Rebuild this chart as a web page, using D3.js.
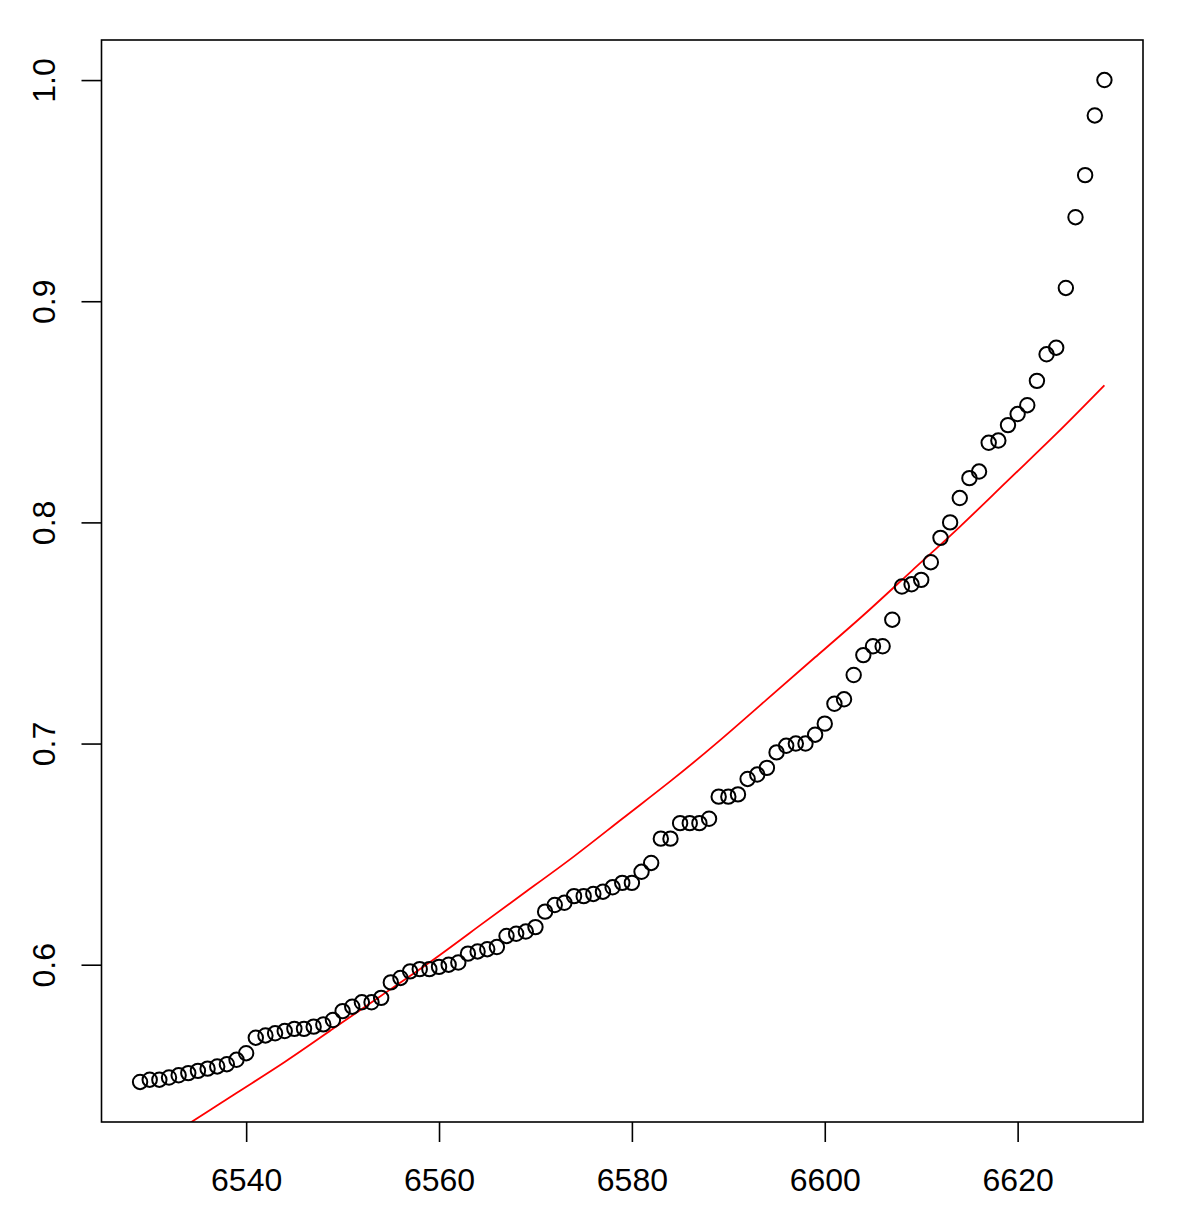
<!DOCTYPE html>
<html>
<head>
<meta charset="utf-8">
<script src="https://cdn.jsdelivr.net/npm/d3@7"></script>
<style>
  html, body { margin: 0; padding: 0; background: #ffffff; }
  svg { display: block; }
  text { font-family: "Liberation Sans", Arial, Helvetica, sans-serif; }
</style>
</head>
<body>
<svg id="chart" width="1180" height="1230"></svg>
<script>
// ---- data ----
const xValues = d3.range(6529, 6630); // index 6529 .. 6629
const yValues = [
  0.547, 0.548, 0.548, 0.549, 0.550, 0.551, 0.552, 0.553, 0.554, 0.555,
  0.557, 0.560, 0.567, 0.568, 0.569, 0.570, 0.571, 0.571, 0.572, 0.573,
  0.575, 0.579, 0.581, 0.583, 0.583, 0.585, 0.592, 0.594, 0.597, 0.598,
  0.598, 0.599, 0.600, 0.601, 0.605, 0.606, 0.607, 0.608, 0.613, 0.614,
  0.615, 0.617, 0.624, 0.627, 0.628, 0.631, 0.631, 0.632, 0.633, 0.635,
  0.637, 0.637, 0.642, 0.646, 0.657, 0.657, 0.664, 0.664, 0.664, 0.666,
  0.676, 0.676, 0.677, 0.684, 0.686, 0.689, 0.696, 0.699, 0.700, 0.700,
  0.704, 0.709, 0.718, 0.720, 0.731, 0.740, 0.744, 0.744, 0.756, 0.771,
  0.772, 0.774, 0.782, 0.793, 0.800, 0.811, 0.820, 0.823, 0.836, 0.837,
  0.844, 0.849, 0.853, 0.864, 0.876, 0.879, 0.906, 0.938, 0.957, 0.984,
  1.000
];
// red fitted curve
const fitX = [6529, 6534, 6539, 6544, 6549, 6554, 6559, 6564, 6569, 6574, 6579,
              6584, 6589, 6594, 6599, 6604, 6609, 6614, 6619, 6624, 6629];
const fitY = [0.515, 0.528, 0.542, 0.556, 0.571, 0.586, 0.601, 0.617, 0.633, 0.649, 0.666,
              0.683, 0.701, 0.720, 0.739, 0.758, 0.778, 0.798, 0.819, 0.840, 0.862];
const xTicks = [6540, 6560, 6580, 6600, 6620];
const yTicks = [0.6, 0.7, 0.8, 0.9, 1.0];
const yTickLabels = ["0.6", "0.7", "0.8", "0.9", "1.0"];

// ---- layout ----
const svg = d3.select("#chart");
const pL = 101.5, pR = 1143, pT = 40, pB = 1122;

const xr = d3.extent(xValues), yr = d3.extent(yValues);
const xpad = (xr[1] - xr[0]) * 0.04, ypad = (yr[1] - yr[0]) * 0.04;
const x = d3.scaleLinear().domain([xr[0] - xpad, xr[1] + xpad]).range([pL, pR]);
const y = d3.scaleLinear().domain([yr[0] - ypad, yr[1] + ypad]).range([pB, pT]);

svg.append("rect").attr("width", 1180).attr("height", 1230).attr("fill", "#ffffff");

svg.append("defs").append("clipPath").attr("id", "plotclip")
  .append("rect").attr("x", pL).attr("y", pT)
  .attr("width", pR - pL).attr("height", pB - pT);

// red curve
const fitData = fitX.map((d, i) => [d, fitY[i]]);
svg.append("path")
  .attr("clip-path", "url(#plotclip)")
  .attr("d", d3.line().x(d => x(d[0])).y(d => y(d[1])).curve(d3.curveNatural)(fitData))
  .attr("fill", "none")
  .attr("stroke", "#ff0000")
  .attr("stroke-width", 1.8);

// points
svg.append("g").selectAll("circle")
  .data(xValues.map((d, i) => [d, yValues[i]]))
  .join("circle")
  .attr("cx", d => x(d[0]))
  .attr("cy", d => y(d[1]))
  .attr("r", 7.2)
  .attr("fill", "none")
  .attr("stroke", "#000000")
  .attr("stroke-width", 2);

// box
svg.append("rect")
  .attr("x", pL).attr("y", pT)
  .attr("width", pR - pL).attr("height", pB - pT)
  .attr("fill", "none").attr("stroke", "#000000").attr("stroke-width", 1.6);

// x axis
const gx = svg.append("g").attr("transform", `translate(0,${pB})`)
  .call(d3.axisBottom(x).tickValues(xTicks).tickFormat(d3.format("d")).tickSize(20).tickPadding(26));
gx.select(".domain").remove();
gx.selectAll("line").attr("stroke", "#000").attr("stroke-width", 1.6);
gx.selectAll("text").attr("font-size", 32).attr("fill", "#000")
  .attr("font-family", "'Liberation Sans', Arial, sans-serif");

// y axis
const gy = svg.append("g").attr("transform", `translate(${pL},0)`)
  .call(d3.axisLeft(y).tickValues(yTicks).tickFormat((d, i) => yTickLabels[i]).tickSize(20));
gy.select(".domain").remove();
gy.selectAll("line").attr("stroke", "#000").attr("stroke-width", 1.6);
gy.selectAll("text")
  .attr("font-size", 32).attr("fill", "#000")
  .attr("font-family", "'Liberation Sans', Arial, sans-serif")
  .attr("text-anchor", "middle")
  .attr("x", 0).attr("y", 0).attr("dy", 0)
  .attr("transform", "translate(-46.5,0) rotate(-90)");
</script>
</body>
</html>
